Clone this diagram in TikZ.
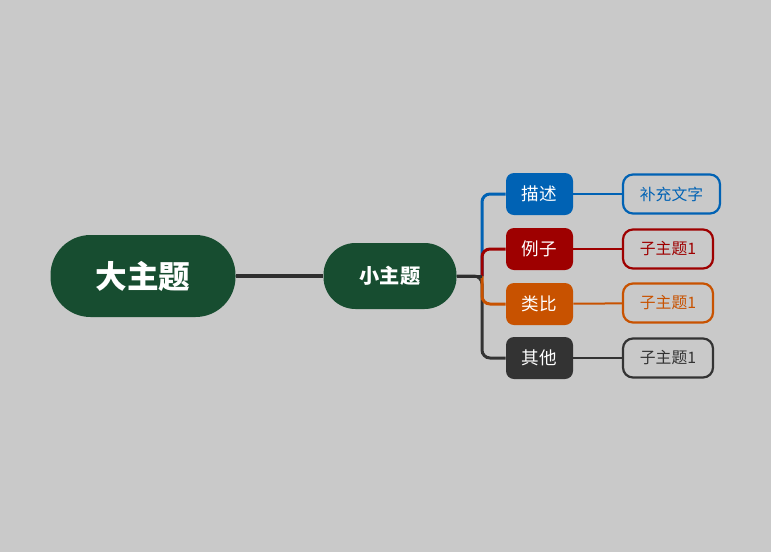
\documentclass[tikz,border=0pt]{standalone}
\usepackage{fontspec}
\newfontfamily\cjk{Noto Sans CJK SC}
\usepackage{tikz}
\usetikzlibrary{positioning}
\definecolor{bg}{HTML}{C9C9C9}
\definecolor{topic}{HTML}{174D30}
\definecolor{cblue}{HTML}{0062B4}
\definecolor{cred}{HTML}{9E0000}
\definecolor{corange}{HTML}{C85200}
\definecolor{cgray}{HTML}{333333}
\definecolor{cline}{HTML}{2E2E2E}
\newcommand{\unit}{*0.02cm}
\tikzset{
  maintopic/.style={fill=topic, text=white, rounded corners=40\unit, minimum width=185\unit, minimum height=82\unit, font=\cjk\bfseries\fontsize{18}{20}\selectfont},
  subtopic/.style={fill=topic, text=white, rounded corners=32\unit, minimum width=133\unit, minimum height=66\unit, font=\cjk\bfseries\fontsize{11.5}{13}\selectfont},
  branch/.style={fill=#1, text=white, rounded corners=8\unit, minimum width=67\unit, minimum height=42\unit, font=\cjk\fontsize{10}{12}\selectfont},
  leaf/.style={draw=#1, text=#1, fill=bg, line width=2.2\unit, rounded corners=10\unit, minimum width=90\unit, minimum height=39\unit, font=\cjk\fontsize{9}{11}\selectfont},
  wire/.style={draw=#1, line width=3\unit, rounded corners=8\unit}
}
\begin{document}
\begin{tikzpicture}[x=0.02cm, y=-0.02cm]
  % background
  \fill[bg] (0,0) rectangle (771,552);
  \useasboundingbox (0,0) rectangle (771,552);
  % topics
  \node[maintopic] (main) at (143,276) {大主题};
  \node[subtopic] (sub) at (390,276) {小主题};
  \draw[cline, line width=4\unit] (main) -- (sub);
  % branches
  \coordinate (j) at (482,276);
  \node[branch=cblue] (b1) at (539.5,194) {描述};
  \node[branch=cred] (b2) at (539.5,249) {例子};
  \node[branch=corange] (b3) at (539.5,304) {类比};
  \node[branch=cgray] (b4) at (539.5,358) {其他};
  \draw[wire=cgray] (sub.east) -- (j) |- (b4.west);
  \draw[wire=corange] (j) |- (b3.west);
  \draw[wire=cblue] (j) |- (b1.west);
  \draw[wire=cred] (j) |- (b2.west);
  \draw[cline, line width=3\unit] (sub.east) -- (j);
  % leaves
  \node[leaf=cblue, minimum width=97\unit] (l1) at (671.5,194) {补充文字};
  \node[leaf=cred] (l2) at (668,249) {子主题1};
  \node[leaf=corange] (l3) at (668,303) {子主题1};
  \node[leaf=cgray] (l4) at (668,358) {子主题1};
  \draw[cblue, line width=2\unit] (b1) -- (l1);
  \draw[cred, line width=2\unit] (b2) -- (l2);
  \draw[corange, line width=2\unit] (b3) -- (l3);
  \draw[cgray, line width=2\unit] (b4) -- (l4);
\end{tikzpicture}
\end{document}
